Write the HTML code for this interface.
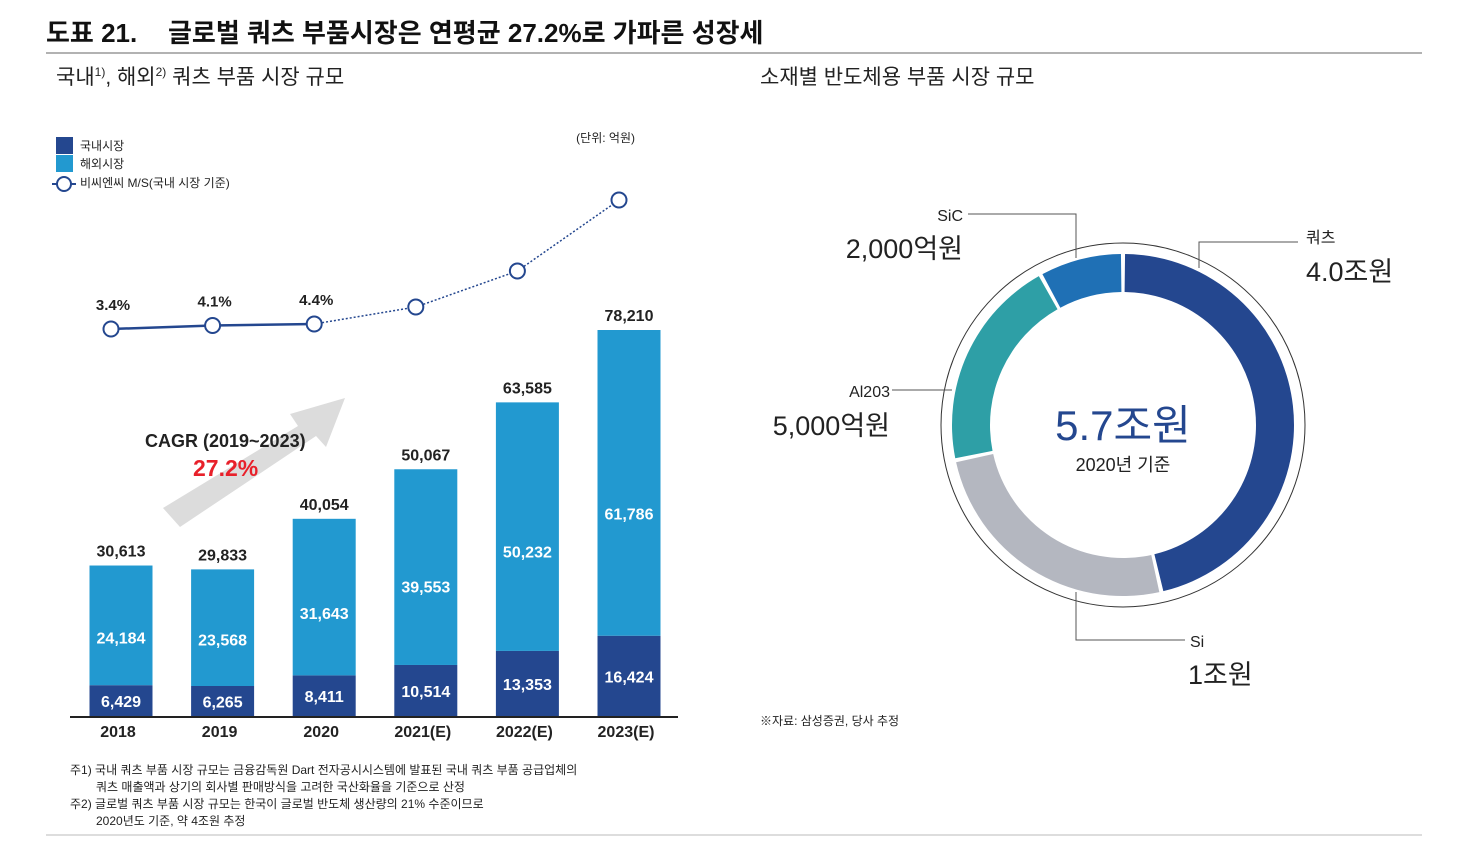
<!DOCTYPE html>
<html><head><meta charset="utf-8">
<style>
body{margin:0;width:1468px;height:840px;background:#fff;overflow:hidden;font-family:"Liberation Sans","Noto Sans CJK KR",sans-serif;}
svg text{font-family:"Liberation Sans","Noto Sans CJK KR",sans-serif;}
</style></head><body>
<svg id="s" width="1468" height="840" viewBox="0 0 1468 840">
<text x="46" y="42" font-size="26" font-weight="bold" fill="#111">도표 21.  <tspan x="168">글로벌 쿼츠 부품시장은 연평균 27.2%로 가파른 성장세</tspan></text>
<line x1="46" y1="53" x2="1422" y2="53" stroke="#999" stroke-width="1.5"/>
<text x="56" y="84" font-size="21" fill="#222">국내<tspan font-size="12" dy="-8">1)</tspan><tspan dy="8">, 해외</tspan><tspan font-size="12" dy="-8">2)</tspan><tspan dy="8"> 쿼츠 부품 시장 규모</tspan></text>
<text x="760" y="84" font-size="21" fill="#222">소재별 반도체용 부품 시장 규모</text>
<g>
<rect x="56" y="137" width="17" height="17" fill="#24478f"/>
<text x="80" y="150" font-size="12" fill="#222">국내시장</text>
<rect x="56" y="155" width="17" height="17" fill="#2299d0"/>
<text x="80" y="168" font-size="12" fill="#222">해외시장</text>
<line x1="52" y1="184" x2="76" y2="184" stroke="#24478f" stroke-width="2"/>
<circle cx="64" cy="184" r="7" fill="#fff" stroke="#24478f" stroke-width="2"/>
<text x="80" y="187" font-size="12" fill="#222">비씨엔씨 M/S(국내 시장 기준)</text>
</g>
<text x="635" y="142" font-size="12" fill="#222" text-anchor="end">(단위: 억원)</text>
<polygon points="163,508 298,426 290,414 345,398 326,447 316,436 180,527" fill="#dcdcdc"/>
<text x="145" y="447" font-size="18" font-weight="bold" fill="#222">CAGR (2019~2023)</text>
<text x="193" y="476" font-size="23" font-weight="bold" fill="#e8202a">27.2%</text>
<g id="bars"></g>
<line x1="70" y1="717" x2="678" y2="717" stroke="#222" stroke-width="2"/>
<g id="line"></g>
<g id="donut"></g>
<text x="70" y="774" font-size="12" fill="#222">주1) 국내 쿼츠 부품 시장 규모는 금융감독원 Dart 전자공시시스템에 발표된 국내 쿼츠 부품 공급업체의</text>
<text x="96" y="791" font-size="12" fill="#222">쿼츠 매출액과 상기의 회사별 판매방식을 고려한 국산화율을 기준으로 산정</text>
<text x="70" y="808" font-size="12" fill="#222">주2) 글로벌 쿼츠 부품 시장 규모는 한국이 글로벌 반도체 생산량의 21% 수준이므로</text>
<text x="96" y="825" font-size="12" fill="#222">2020년도 기준, 약 4조원 추정</text>
<text x="760" y="725" font-size="12" fill="#222">※자료: 삼성증권, 당사 추정</text>
<line x1="46" y1="835" x2="1422" y2="835" stroke="#bbb" stroke-width="1"/>
</svg>
<script>
const years=['2018','2019','2020','2021(E)','2022(E)','2023(E)'];
const domestic=[6429,6265,8411,10514,13353,16424];
const overseas=[24184,23568,31643,39553,50232,61786];
const totals=[30613,29833,40054,50067,63585,78210];
const msShare=[3.4,4.1,4.4,7.8,15,29.2];
const msLabels=['3.4%','4.1%','4.4%','','',''];
const donutLabels=['쿼츠','Si','Al203','SiC'];
const donutValues=['4.0조원','1조원','5,000억원','2,000억원'];
const segmentShares=[46.4,25.3,20.3,8.0];
const NS='http://www.w3.org/2000/svg';
function mk(t,a,p){const e=document.createElementNS(NS,t);for(const k in a)e.setAttribute(k,a[k]);p.appendChild(e);return e;}
const x0=121,dx=101.6,bw=63,base=717,k=387/78210;
const xS=i=>x0+i*dx, yS=v=>base-v*k, yM=v=>346-v*5;
const gb=document.getElementById('bars');
years.forEach((y,i)=>{
 const cx=xS(i),hd=domestic[i]*k,ho=overseas[i]*k;
 let r=mk('rect',{x:cx-bw/2,y:base-hd,width:bw,height:hd,fill:'#24478f'},gb);
 
 
 r=mk('rect',{x:cx-bw/2,y:base-hd-ho,width:bw,height:ho,fill:'#2299d0'},gb);
 
 
 let t=mk('text',{x:cx,y:base-hd/2+6,'font-size':16,'font-weight':'bold',fill:'#fff','text-anchor':'middle'},gb);t.textContent=domestic[i].toLocaleString('en-US');
 
 
 t=mk('text',{x:cx,y:base-hd-ho*0.4+6,'font-size':16,'font-weight':'bold',fill:'#fff','text-anchor':'middle'},gb);t.textContent=overseas[i].toLocaleString('en-US');
 
 
 t=mk('text',{x:cx,y:yS(totals[i])-9,'font-size':16,'font-weight':'bold',fill:'#222','text-anchor':'middle'},gb);t.textContent=totals[i].toLocaleString('en-US');
 
 
 t=mk('text',{x:cx-3,y:737,'font-size':16,'font-weight':'bold',fill:'#222','text-anchor':'middle'},gb);t.textContent=y;
 
 
});
const gl=document.getElementById('line');
for(let i=0;i<msShare.length-1;i++){
 const solid=i<2;
 const l=mk('line',{x1:xS(i)-10,y1:yM(msShare[i]),x2:xS(i+1)-10,y2:yM(msShare[i+1]),stroke:'#24478f','stroke-width':solid?2.5:1.5,'stroke-dasharray':solid?'':'2,2'},gl);
 
 
}
msShare.forEach((v,i)=>{
 const c=mk('circle',{cx:xS(i)-10,cy:yM(v),r:7.5,fill:'#fff',stroke:'#24478f','stroke-width':2},gl);
 
 
 if(msLabels[i]){const t=mk('text',{x:xS(i)-8,y:yM(v)-19,'font-size':15,'font-weight':'bold',fill:'#222','text-anchor':'middle'},gl);t.textContent=msLabels[i];
 
 }
});
const gd=document.getElementById('donut');
const cx=1123,cy=425,R=171,r0=133;
let oc=mk('circle',{cx,cy,r:182,fill:'none',stroke:'#333','stroke-width':1},gd);


const cols=['#24478f','#b4b7c0','#2e9fa6','#1f70b5'];
const sum=segmentShares.reduce((a,b)=>a+b,0);
let acc=0;
const pt=(a,rr)=>[cx+rr*Math.sin(a),cy-rr*Math.cos(a)];
segmentShares.forEach((s,i)=>{
 const a0=acc/sum*2*Math.PI+0.012, a1=(acc+s)/sum*2*Math.PI-0.012; acc+=s;
 const lg=a1-a0>Math.PI?1:0;
 const p1=pt(a0,R),p2=pt(a1,R),p3=pt(a1,r0),p4=pt(a0,r0);
 const p=mk('path',{d:`M${p1} A${R},${R} 0 ${lg} 1 ${p2} L${p3} A${r0},${r0} 0 ${lg} 0 ${p4}Z`,fill:cols[i]},gd);
 
 
});
const callouts=[
 {pts:'1199,268 1199,242 1298,242',lx:1306,ly:243,vx:1306,vy:281,anchor:'start'},
 {pts:'1076,592 1076,640 1185,640',lx:1190,ly:647,vx:1188,vy:684,anchor:'start'},
 {pts:'952,390 892,390',lx:890,ly:397,vx:890,vy:435,anchor:'end'},
 {pts:'1076,258 1076,214 968,214',lx:963,ly:221,vx:963,vy:258,anchor:'end'}];
callouts.forEach((c,i)=>{
 const l=mk('polyline',{points:c.pts,fill:'none',stroke:'#555','stroke-width':1},gd);
 
 
 let t=mk('text',{x:c.lx,y:c.ly,'font-size':16,fill:'#222','text-anchor':c.anchor},gd);t.textContent=donutLabels[i];
 
 
 t=mk('text',{x:c.vx,y:c.vy,'font-size':27,fill:'#222','text-anchor':c.anchor},gd);t.textContent=donutValues[i];
 
 
});
let t=mk('text',{x:cx,y:440,'font-size':42,fill:'#24478f','text-anchor':'middle'},gd);t.textContent='5.7조원';


t=mk('text',{x:cx,y:471,'font-size':18,fill:'#222','text-anchor':'middle'},gd);t.textContent='2020년 기준';


</script>
</body></html>
